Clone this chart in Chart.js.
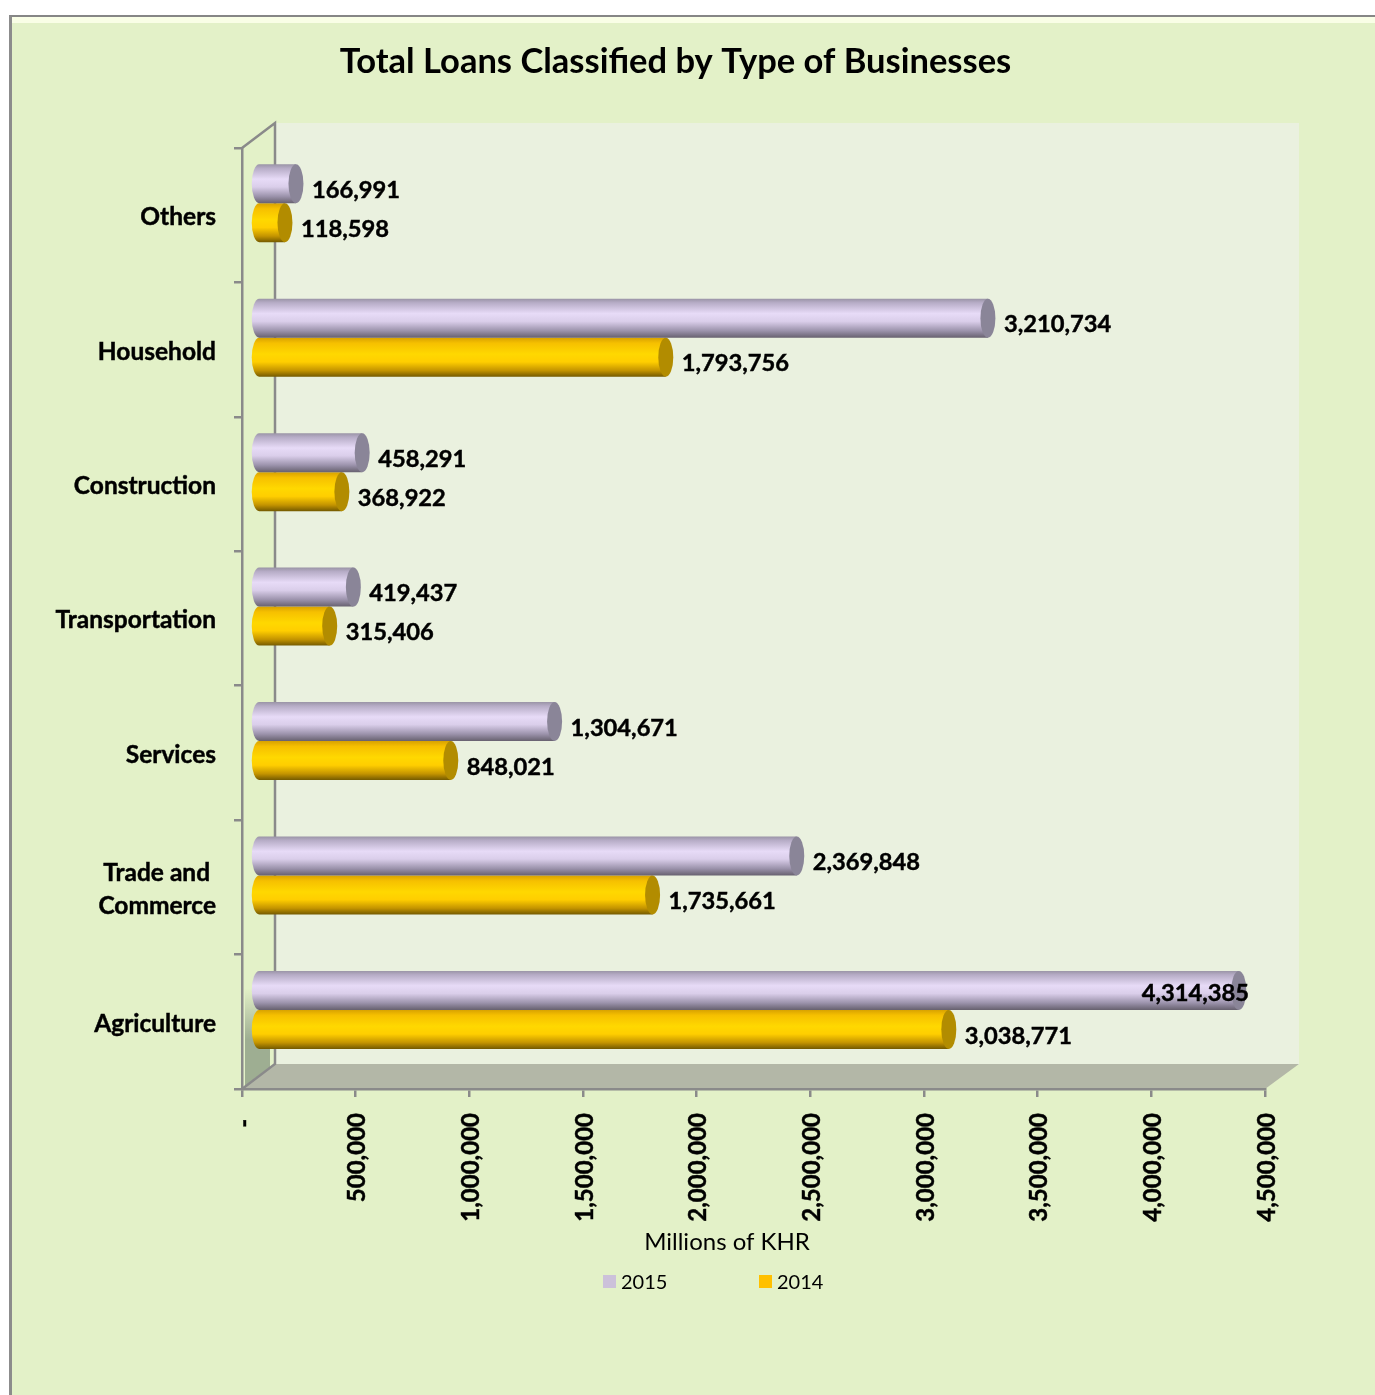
<!DOCTYPE html>
<html>
<head>
<meta charset="utf-8">
<title>Total Loans Classified by Type of Businesses</title>
<script src="https://cdn.jsdelivr.net/npm/chart.js@4/dist/chart.umd.min.js"></script>
<style>
  html, body { margin: 0; padding: 0; background: #fff; overflow: hidden; }
  .frame {
    position: absolute; left: 9px; top: 15px; right: 0; bottom: 0;
    background: #E3F1C8;
    border-left: 3px solid #8c8c8c;
    border-top: 2px solid #868686;
    box-shadow: inset 0 6px 0 #F9FEE6;
  }
  canvas { position: absolute; left: 0; top: 0; }
</style>
</head>
<body>
<div class="frame"></div>
<canvas id="chart" width="1375" height="1395"></canvas>
<script>
const categories = ['Others', 'Household', 'Construction', 'Transportation', 'Services', ['Trade and ', 'Commerce'], 'Agriculture'];
const values2015 = [166991, 3210734, 458291, 419437, 1304671, 2369848, 4314385];
const values2014 = [118598, 1793756, 368922, 315406, 848021, 1735661, 3038771];
const axisTitle = 'Millions of KHR';
const chartTitle = 'Total Loans Classified by Type of Businesses';

const FONT = 'Lato, Carlito, Calibri, sans-serif';
const AXIS_GRAY = '#8A8A8A';
const LABEL_STROKE = 0.45;
// Depth of the pseudo-3D box and the shift of the bars to the middle of it.
const DEPTH_X = 33, DEPTH_Y = 25, BAR_SHIFT_X = 16, BAR_SHIFT_Y = 11.9, CAP_RX = 7.5;

const tubeStyles = [
  { cap: '#8A8598', stops: [[0, '#9A94A6'], [0.1, '#B6ACC6'], [0.38, '#E7DBF7'], [0.58, '#DACEEA'], [0.82, '#9C93AC'], [1, '#67616F']] },
  { cap: '#B28C00', stops: [[0, '#D8A200'], [0.14, '#F6C000'], [0.42, '#FFD800'], [0.62, '#FFCE00'], [0.84, '#C49400'], [1, '#745A00']] }
];

// Back wall, floor and side wall of the box, drawn behind the axes.
const boxWalls = {
  id: 'boxWalls',
  beforeDraw(chart) {
    const { ctx, chartArea: a } = chart;
    ctx.save();
    ctx.fillStyle = '#EAF1DF';
    ctx.fillRect(a.left + DEPTH_X, a.top - DEPTH_Y, a.right - a.left + 1, a.bottom - a.top + 1);

    ctx.fillStyle = '#B3B7A7';
    ctx.beginPath();
    ctx.moveTo(a.left, a.bottom);
    ctx.lineTo(a.left + DEPTH_X, a.bottom - DEPTH_Y);
    ctx.lineTo(a.right + DEPTH_X + 1, a.bottom - DEPTH_Y);
    ctx.lineTo(a.right, a.bottom);
    ctx.closePath();
    ctx.fill();

    // shaded foot of the side wall
    const shade = ctx.createLinearGradient(0, a.bottom - 100, 0, a.bottom - 50);
    shade.addColorStop(0, 'rgba(158,174,146,0)');
    shade.addColorStop(1, 'rgba(158,174,146,1)');
    ctx.fillStyle = shade;
    ctx.beginPath();
    ctx.moveTo(a.left + 3, a.bottom - 100);
    ctx.lineTo(a.left + 28, a.bottom - 100);
    ctx.lineTo(a.left + 28, a.bottom - 22);
    ctx.lineTo(a.left + 3, a.bottom - 3);
    ctx.closePath();
    ctx.fill();

    ctx.strokeStyle = AXIS_GRAY;
    ctx.lineWidth = 2.5;
    ctx.beginPath();
    ctx.moveTo(a.left, a.top);
    ctx.lineTo(a.left + DEPTH_X, a.top - DEPTH_Y);
    ctx.lineTo(a.left + DEPTH_X, a.bottom - DEPTH_Y);
    ctx.lineTo(a.left, a.bottom);
    ctx.stroke();
    ctx.restore();
  }
};

// Replaces the flat bars with shaded cylinders placed from the bar elements.
const cylinders = {
  id: 'cylinders',
  beforeDatasetDraw(chart, args) {
    const { ctx } = chart;
    const style = tubeStyles[args.index];
    ctx.save();
    ctx.translate(BAR_SHIFT_X, -BAR_SHIFT_Y);
    args.meta.data.forEach(el => {
      const { x, y, base, height } = el.getProps(['x', 'y', 'base', 'height'], true);
      const top = y - height / 2, bottom = y + height / 2, ry = height / 2;
      const grad = ctx.createLinearGradient(0, top, 0, bottom);
      style.stops.forEach(s => grad.addColorStop(s[0], s[1]));
      ctx.fillStyle = grad;
      ctx.beginPath();
      ctx.ellipse(base, y, CAP_RX, ry, 0, Math.PI / 2, Math.PI * 1.5);
      ctx.lineTo(x, top);
      ctx.lineTo(x, bottom);
      ctx.closePath();
      ctx.fill();
      ctx.fillStyle = style.cap;
      ctx.beginPath();
      ctx.ellipse(x, y, CAP_RX, ry, 0, 0, Math.PI * 2);
      ctx.fill();
    });
    ctx.restore();
    return false;
  }
};

// Centres the title over the box, which sits off the page centre.
const titlePlacement = {
  id: 'titlePlacement',
  afterLayout(chart) {
    const box = chart.titleBlock;
    const shift = 675.5 - (box.left + box.right) / 2;
    box.left += shift;
    box.right += shift;
  }
};

// Value labels, the axis caption and the legend row.
const annotations = {
  id: 'annotations',
  afterDraw(chart) {
    const { ctx } = chart;
    ctx.save();
    ctx.textBaseline = 'middle';
    ctx.fillStyle = '#000';
    ctx.strokeStyle = '#000';
    ctx.lineWidth = LABEL_STROKE;
    ctx.font = 'bold 23.7px ' + FONT;
    const rightLimit = chart.chartArea.right - 16;
    chart.data.datasets.forEach((ds, i) => {
      chart.getDatasetMeta(i).data.forEach((el, j) => {
        const text = ds.data[j].toLocaleString('en-US');
        const endX = el.x + BAR_SHIFT_X + CAP_RX;
        const midY = el.y - BAR_SHIFT_Y;
        const w = ctx.measureText(text).width;
        let tx = endX + 8.5, ty = midY + 6.5;
        if (tx + w > rightLimit) {
          tx = rightLimit - w;
          ty = midY + 3;
        }
        ctx.textAlign = 'left';
        ctx.fillText(text, tx, ty);
        ctx.strokeText(text, tx, ty);
      });
    });

    ctx.font = '24px ' + FONT;
    ctx.fillStyle = '#000';
    ctx.textAlign = 'center';
    ctx.fillText(axisTitle, 727, 1242);

    ctx.font = '20px ' + FONT;
    ctx.textAlign = 'left';
    [603, 759].forEach((lx, i) => {
      const ds = chart.data.datasets[i];
      ctx.fillStyle = ds.backgroundColor;
      ctx.fillRect(lx, 1275, 13, 13);
      ctx.fillStyle = '#000';
      ctx.fillText(ds.label, lx + 18, 1283);
    });
    ctx.restore();
  }
};

function fixedSize(prop, size) {
  return scale => { scale[prop] = size; };
}

new Chart(document.getElementById('chart'), {
  type: 'bar',
  data: {
    labels: categories,
    datasets: [
      { label: '2015', data: values2015, backgroundColor: '#CCC1DA', barThickness: 39 },
      { label: '2014', data: values2014, backgroundColor: '#FFC000', barThickness: 39 }
    ]
  },
  plugins: [boxWalls, cylinders, titlePlacement, annotations],
  options: {
    indexAxis: 'y',
    responsive: false,
    animation: false,
    devicePixelRatio: 1,
    layout: { autoPadding: false, padding: { left: 30, right: 110, top: 0, bottom: 0 } },
    plugins: {
      legend: { display: false },
      tooltip: { enabled: false },
      title: {
        display: true,
        text: chartTitle,
        color: '#000',
        font: { family: FONT, size: 34.5, weight: 'bold', lineHeight: 1.2 },
        padding: { top: 41, bottom: 65.6 }
      }
    },
    scales: {
      x: {
        min: 0,
        max: 4500000,
        afterFit: fixedSize('height', 306),
        border: { color: AXIS_GRAY, width: 2.5 },
        grid: { drawOnChartArea: false, drawTicks: true, tickLength: 8, color: AXIS_GRAY, lineWidth: 2.5 },
        ticks: {
          stepSize: 500000,
          minRotation: 90,
          maxRotation: 90,
          padding: 16,
          labelOffset: 2,
          autoSkip: false,
          color: '#000',
          textStrokeColor: '#000',
          textStrokeWidth: LABEL_STROKE,
          font: { family: FONT, size: 24, weight: 'bold' },
          callback: v => (v === 0 ? '- ' : v.toLocaleString('en-US'))
        }
      },
      y: {
        afterFit: fixedSize('width', 212),
        border: { color: AXIS_GRAY, width: 2.5 },
        grid: { drawOnChartArea: false, drawTicks: true, tickLength: 8, color: AXIS_GRAY, lineWidth: 2.5 },
        ticks: {
          padding: 18,
          labelOffset: 2,
          autoSkip: false,
          color: '#000',
          textStrokeColor: '#000',
          textStrokeWidth: LABEL_STROKE,
          font: { family: FONT, size: 24.5, weight: 'bold', lineHeight: 1.35 }
        }
      }
    }
  }
});
</script>
</body>
</html>
